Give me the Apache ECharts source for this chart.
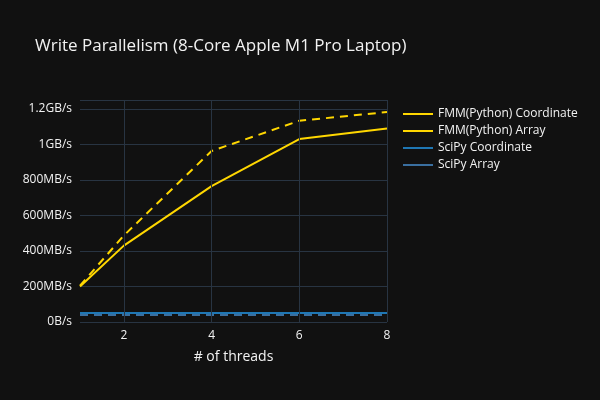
<!DOCTYPE html>
<html><head><meta charset="utf-8">
<script src="https://cdn.jsdelivr.net/npm/echarts@6/dist/echarts.min.js"></script>
<style>html,body{margin:0;background:#111111}#c{width:600px;height:400px}</style>
</head><body><div id="c"></div>
<script>
const threads = [1, 2, 4, 6, 8];
const fmmCoord = [200, 430, 765, 1030, 1090];
const fmmArray = [205, 487, 963, 1133, 1182];
const scipyCoord = [50, 50, 50, 50, 50];
const scipyArray = [40, 40, 40, 40, 40];
const xTicks = [2, 4, 6, 8];

function fmt(v){ if(v===0) return '0B/s'; if(v>=1000) return (v/1000)+'GB/s'; return v+'MB/s'; }
const pairs = a => threads.map((t,i)=>[t,a[i]]);
const font = 'Open Sans';
const chart = echarts.init(document.getElementById('c'));
chart.setOption({
  backgroundColor:'#111111',
  textStyle:{fontFamily:font},
  title:{text:'Write Parallelism (8-Core Apple M1 Pro Laptop)',left:30,top:33,textStyle:{color:'#f2f2f2',fontSize:17,fontWeight:'normal',fontFamily:font}},
  legend:{orient:'vertical',left:398,top:103,itemGap:5,itemWidth:30,itemHeight:14,textStyle:{color:'#f2f2f2',fontSize:12,fontFamily:font},icon:'path://M0,6h30v2h-30z'},
  grid:{left:80,right:213,top:100,bottom:78},
  xAxis:{type:'value',min:1,max:8,interval:1,
    name:'# of threads',nameLocation:'middle',nameGap:28,nameTextStyle:{color:'#f2f2f2',fontSize:14},
    axisLine:{show:false},axisTick:{show:false},splitLine:{show:false},
    axisLabel:{color:'#f2f2f2',fontSize:12,formatter:v=>xTicks.includes(v)?String(v):''}},
  yAxis:{type:'value',min:0,max:1250,interval:200,
    axisLine:{show:false},axisTick:{show:false},
    splitLine:{lineStyle:{color:'#283442'}},
    axisLabel:{color:'#f2f2f2',fontSize:12,formatter:fmt}},
  series:[
    {name:'FMM(Python) Coordinate',type:'line',data:pairs(fmmCoord),showSymbol:false,lineStyle:{color:'#FFD700',width:2},itemStyle:{color:'#FFD700'},
     markLine:{silent:true,symbol:'none',label:{show:false},lineStyle:{color:'#283442',type:'solid',width:1},data:xTicks.map(x=>({xAxis:x}))}},
    {name:'FMM(Python) Array',type:'line',data:pairs(fmmArray),showSymbol:false,lineStyle:{color:'#FFD700',width:2,type:[8,6]},itemStyle:{color:'#FFD700'}},
    {name:'SciPy Coordinate',type:'line',data:pairs(scipyCoord),showSymbol:false,lineStyle:{color:'#1f77b4',width:2},itemStyle:{color:'#1f77b4'}},
    {name:'SciPy Array',type:'line',data:pairs(scipyArray),showSymbol:false,lineStyle:{color:'#3a6fa0',width:2,type:[8,6]},itemStyle:{color:'#3a6fa0'}}
  ]
});
</script></body></html>
